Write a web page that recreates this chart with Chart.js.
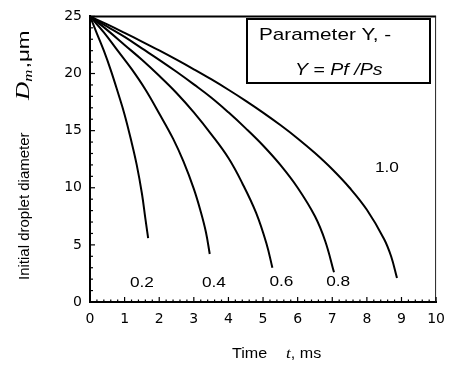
<!DOCTYPE html>
<html>
<head>
<meta charset="utf-8">
<script src="https://cdn.jsdelivr.net/npm/chart.js@4/dist/chart.umd.min.js"></script>
<style>
    html, body { margin: 0; padding: 0; background: #fff; }
    canvas { display: block; }
</style>
</head>
<body>
<canvas id="dropChart" width="454" height="370"></canvas>
<script>
/* ============================================================
   DATA  (time t in ms, diameter D in um)
============================================================ */
const yParams = ["0.2", "0.4", "0.6", "0.8", "1.0"];

const tY02 = [0, 0.2, 0.4, 0.6, 0.8, 1.0, 1.2, 1.35, 1.5, 1.6, 1.68];
const dY02 = [25, 23.5, 22.0, 20.3, 18.4, 16.4, 14.0, 12.0, 9.5, 7.3, 5.6];

const tY04 = [0, 0.4, 0.8, 1.2, 1.6, 2.0, 2.4, 2.7, 3.0, 3.2, 3.35, 3.46];
const dY04 = [25, 23.6, 22.0, 20.4, 18.6, 16.5, 14.3, 12.3, 9.9, 7.9, 6.1, 4.2];

const tY06 = [0, 0.5, 1, 1.5, 2, 2.5, 3, 3.5, 4, 4.4, 4.8, 5.1, 5.27];
const dY06 = [25, 23.8, 22.5, 21.2, 19.8, 18.3, 16.6, 14.7, 12.6, 10.4, 7.8, 5.1, 3.0];

const tY08 = [0, 0.5, 1, 1.5, 2, 2.5, 3, 3.5, 4, 4.5, 5, 5.5, 6, 6.5, 6.8, 7.05];
const dY08 = [25, 24.1, 23.2, 22.2, 21.2, 20.15, 19.05, 17.9, 16.6, 15.2, 13.7, 12.0, 10.0, 7.5, 5.3, 2.6];

const tY10 = [0, 0.5, 1, 1.5, 2, 2.5, 3, 3.5, 4, 4.5, 5, 5.5, 6, 6.5, 7, 7.5, 8, 8.5, 8.7, 8.87];
const dY10 = [25, 24.3, 23.56, 22.8, 22.02, 21.21, 20.37, 19.5, 18.58, 17.61, 16.58, 15.49, 14.32, 13.04, 11.62, 10.0, 8.07, 5.5, 4.0, 2.1];

const seriesT = [tY02, tY04, tY06, tY08, tY10];
const seriesD = [dY02, dY04, dY06, dY08, dY10];

// where each Y label sits, in data units (t, D)
const labelAt = [[1.5, 1.7], [3.58, 1.7], [5.53, 1.8], [7.17, 1.8], [8.58, 11.7]];

/* ============================================================
   TEXT HELPERS
============================================================ */
const SANS = "'Liberation Sans', Arial, sans-serif";
const SERIF = "'Liberation Serif', 'Times New Roman', serif";

// draw a list of runs {text, font, dy} one after another, stretched by sx
function drawRuns(ctx, runs, x, y, sx) {
    ctx.save();
    ctx.translate(x, y);
    ctx.scale(sx, 1);
    let cx = 0;
    runs.forEach(r => {
        ctx.font = r.font;
        ctx.fillText(r.text, cx, r.dy || 0);
        cx += ctx.measureText(r.text).width + (r.gap || 0);
    });
    ctx.restore();
}

function centerText(ctx, text, x, y, font, sx) {
    ctx.save();
    ctx.translate(x, y);
    ctx.scale(sx, 1);
    ctx.font = font;
    ctx.textAlign = "center";
    ctx.textBaseline = "middle";
    ctx.fillText(text, 0, 0);
    ctx.restore();
}

/* ============================================================
   DECORATION PLUGIN (frame, inward ticks, box, labels, titles)
============================================================ */
const decorations = {
    id: "decorations",
    afterDraw(chart) {
        const ctx = chart.ctx;
        const { left, right, top, bottom } = chart.chartArea;
        const xs = chart.scales.x;
        const ys = chart.scales.y;

        ctx.save();
        ctx.strokeStyle = "#000";
        ctx.fillStyle = "#000";

        // top + right frame
        ctx.lineWidth = 2;
        ctx.beginPath();
        ctx.moveTo(left, top);
        ctx.lineTo(right, top);
        ctx.stroke();
        ctx.lineWidth = 1;
        ctx.strokeStyle = "#222";
        ctx.beginPath();
        ctx.moveTo(right - 0.5, top);
        ctx.lineTo(right - 0.5, bottom);
        ctx.stroke();
        ctx.strokeStyle = "#000";

        // inward ticks on the y axis
        ctx.lineWidth = 1.2;
        for (let v = 0; v <= 25; v++) {
            const py = ys.getPixelForValue(v);
            const len = v % 5 === 0 ? 5 : 3;
            ctx.beginPath();
            ctx.moveTo(left, py);
            ctx.lineTo(left + len, py);
            ctx.stroke();
        }
        // inward ticks on the x axis
        for (let i = 0; i <= 50; i++) {
            const px = xs.getPixelForValue(i / 5);
            const len = i % 5 === 0 ? 5 : 2.5;
            ctx.beginPath();
            ctx.moveTo(px, bottom);
            ctx.lineTo(px, bottom - len);
            ctx.stroke();
        }

        // parameter box
        ctx.lineWidth = 2;
        ctx.strokeRect(247, 19, 183, 64);
        ctx.textBaseline = "alphabetic";
        drawRuns(ctx, [{ text: "Parameter Y, -", font: "17px " + SANS }], 259, 40, 1.22);
        drawRuns(ctx, [
            { text: "Y", font: "italic 17px " + SANS },
            { text: " = ", font: "17px " + SANS },
            { text: "Pf /Ps", font: "italic 17px " + SANS }
        ], 295, 75, 1.15);

        // curve labels
        yParams.forEach((lab, i) => {
            const px = xs.getPixelForValue(labelAt[i][0]);
            const py = ys.getPixelForValue(labelAt[i][1]);
            centerText(ctx, lab, px, py, "15px " + SANS, 1.15);
        });

        // x title
        ctx.textBaseline = "alphabetic";
        drawRuns(ctx, [{ text: "Time", font: "14px " + SANS }], 232, 358, 1.15);
        drawRuns(ctx, [
            { text: "t", font: "italic 15px " + SERIF },
            { text: ", ms", font: "14px " + SANS }
        ], 286, 358, 1.15);

        // y title (rotated)
        ctx.save();
        ctx.translate(29, 280);
        ctx.rotate(-Math.PI / 2);
        drawRuns(ctx, [{ text: "Initial droplet diameter", font: "15px " + SANS }], 0, 0, 1);
        drawRuns(ctx, [
            { text: "D", font: "italic 18px " + SERIF },
            { text: "m", font: "italic 12px " + SERIF, dy: 3, gap: 1 },
            { text: ",\u03bcm", font: "16px " + SANS }
        ], 180, 0, 1.4);
        ctx.restore();

        ctx.restore();
    }
};

/* ============================================================
   CHART
============================================================ */
const datasets = seriesT.map((ts, i) => ({
    label: yParams[i],
    data: ts.map((t, k) => ({ x: t, y: seriesD[i][k] })),
    showLine: true,
    borderColor: "#000",
    borderWidth: 2,
    pointRadius: 0,
    tension: 0.4,
    clip: 4
}));

const tickFont = { family: "'DejaVu Sans', sans-serif", size: 14 };

new Chart(document.getElementById("dropChart"), {
    type: "scatter",
    data: { datasets },
    options: {
        responsive: false,
        animation: false,
        layout: { padding: { top: 14, right: 16, left: 0, bottom: 0 } },
        plugins: {
            legend: { display: false },
            tooltip: { enabled: false }
        },
        scales: {
            x: {
                type: "linear",
                min: 0,
                max: 10,
                ticks: { stepSize: 1, color: "#000", font: tickFont, padding: 9 },
                grid: { display: true, drawOnChartArea: false, drawTicks: false },
                border: { color: "#000", width: 2 },
                afterFit(s) { s.height = 68; }
            },
            y: {
                min: 0,
                max: 25,
                ticks: { stepSize: 5, color: "#000", font: tickFont, padding: 8 },
                grid: { display: true, drawOnChartArea: false, drawTicks: false },
                border: { color: "#000", width: 2 },
                afterFit(s) { s.width = 90; }
            }
        }
    },
    plugins: [decorations]
});
</script>
</body>
</html>
